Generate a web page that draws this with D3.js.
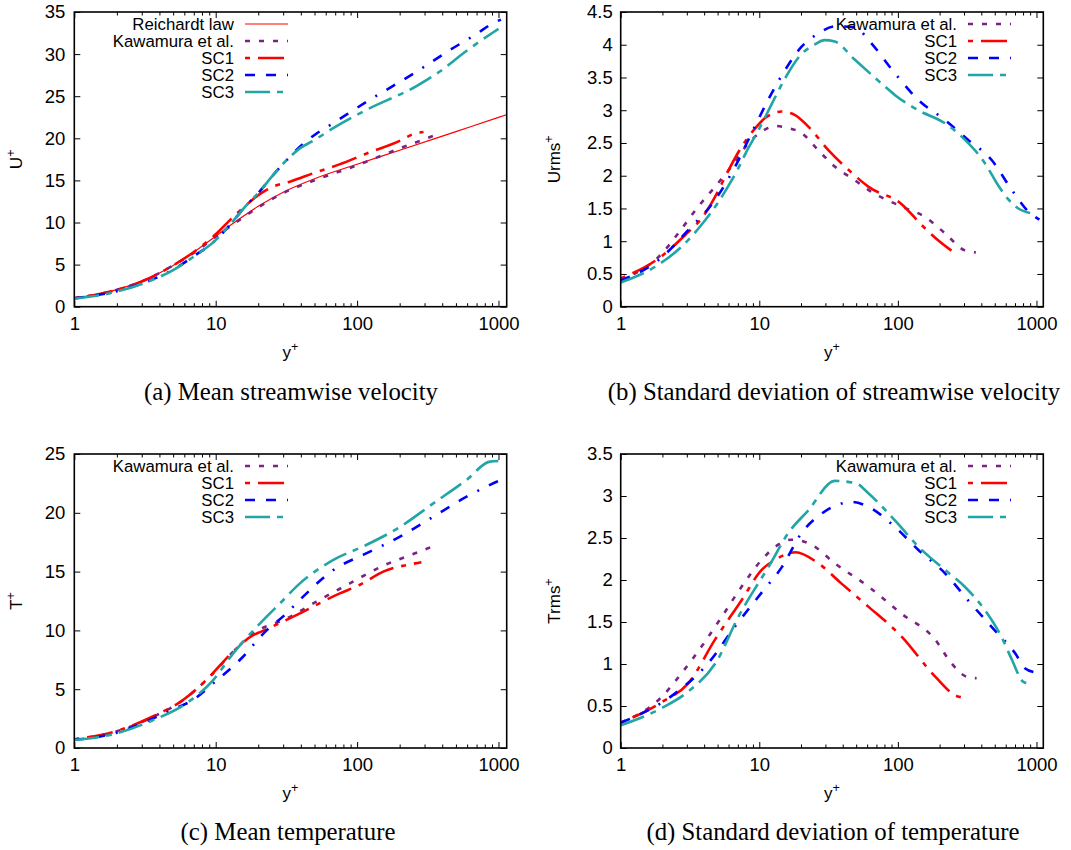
<!DOCTYPE html>
<html><head><meta charset="utf-8">
<script src="https://cdn.jsdelivr.net/npm/d3@7"></script>
<style>body{margin:0;background:#fff}svg{display:block}</style>
</head><body>
<svg id="c" width="1071" height="850"></svg>
<script>
// ---------- data (y+ positions and values) ----------
// (a) mean streamwise velocity U+
const aReichX = [1,1.5,2,3,4,5,7,10,15,20,30,50,100,200,500,1000,1143];
const aReichY = [1.01,1.52,2.03,3.04,4.0,4.9,6.49,8.38,10.53,11.93,13.6,15.2,16.92,18.58,20.8,22.48,22.8];
const aKawX = [1,2,3,5,7,10,15,20,30,50,100,200,300,360];
const aKawY = [1.0,2.0,3.0,4.9,6.4,8.3,10.4,11.8,13.5,15.0,16.8,18.8,19.9,20.4];
const aSC1X = [1,2,3,5,7,10,13,16,20.6,25,33.5,50,75,117,200,250,295];
const aSC1Y = [1.0,2.0,3.0,4.9,6.5,8.6,10.5,11.9,13.4,14.2,14.85,15.9,16.9,18.2,19.7,20.5,20.75];
const aSC2X = [1,2,3,5,7,10,13,16,20,26,33.5,39.4,50,67.8,117,263,455,700,920,1040];
const aSC2Y = [1.0,1.85,2.75,4.4,6.0,7.9,10.0,11.8,13.5,15.8,17.8,19.0,20.4,21.8,24.35,27.9,30.5,32.4,33.7,34.1];
const aSC3X = [1,2,3,5,7,10,13,16,20,26,33.5,39.4,50,67.8,117,263,382,595,920,1000];
const aSC3Y = [0.95,1.8,2.7,4.35,5.95,7.9,10.0,11.8,13.5,15.8,17.8,18.8,19.8,21.2,23.4,26.2,27.9,30.4,32.6,33.0];

// (b) standard deviation of streamwise velocity Urms+
const bKawX = [1,1.98,2.6,3.63,4.79,6.3,8.3,11.6,13,16,20.2,26.6,35,49,61.5,106,157,219,304,365];
const bKawY = [0.41,0.81,1.12,1.53,1.83,2.14,2.49,2.73,2.76,2.73,2.65,2.39,2.14,1.93,1.78,1.53,1.37,1.12,0.86,0.83];
const bSC1X = [1,2,3,3.84,5,5.66,7.45,9.3,11,14.5,18,22.6,31.5,44,61.5,106,148,201,270];
const bSC1Y = [0.43,0.78,1.12,1.35,1.75,1.98,2.44,2.72,2.88,2.98,2.93,2.75,2.39,2.09,1.83,1.57,1.25,0.99,0.79];
const bSC2X = [1,1.87,3.07,4.79,6.7,8.8,11.6,15.3,20.2,26.6,35,49,61.5,95.5,140,219,320,475,665,875,1050];
const bSC2Y = [0.4,0.71,1.17,1.63,2.14,2.65,3.16,3.61,3.97,4.17,4.28,4.27,4.07,3.56,3.16,2.85,2.55,2.24,1.78,1.45,1.33];
const bSC3X = [1,1.77,2.76,4,5,6,7,8,10,12,15,20,25,29.6,35,49,76,95.5,140,219,304,425,530,620,740,900];
const bSC3Y = [0.37,0.61,0.92,1.3,1.58,1.85,2.1,2.35,2.72,3.05,3.45,3.85,4.0,4.07,4.05,3.77,3.41,3.23,3.0,2.8,2.55,2.19,1.85,1.65,1.5,1.43];

// (c) mean temperature T+
const cKawX = [1,2,2.35,3.62,5.9,8.6,13.3,18.4,31.7,51.5,88.8,153,250,370];
const cKawY = [0.72,1.42,1.7,2.66,4.08,5.78,8.19,9.75,11.0,12.44,14.0,15.5,16.5,17.3];
const cSC1X = [1,2,3.62,5.9,8.6,13.3,18.4,21,35.3,75.5,104,153,258,285];
const cSC1Y = [0.75,1.45,2.7,4.1,5.8,8.2,9.6,9.9,11.17,13.15,13.86,15.0,15.7,15.8];
const cSC2X = [1,2,3.62,5,6.9,9.6,14.8,22.9,31.7,39.4,68,116,201,346,595,971,1040];
const cSC2Y = [0.7,1.3,2.52,3.3,4.08,5.5,7.48,10.0,11.45,12.6,15.14,16.55,17.97,19.67,21.37,22.64,22.8];
const cSC3X = [1,2,3.62,6.2,9.6,13.3,20.6,28.5,39.4,68,116,201,346,595,870,1000];
const cSC3Y = [0.68,1.25,2.38,3.8,5.78,8.05,10.6,12.3,14.0,16.0,17.26,18.8,20.8,22.8,24.35,24.4];

// (d) standard deviation of temperature Trms+
const dKawX = [1,1.98,2.75,3.84,5.35,7.45,10.4,13.7,17.1,23.8,35,61.5,106,186,243,312,370];
const dKawY = [0.3,0.61,0.89,1.21,1.56,1.92,2.24,2.42,2.48,2.42,2.2,1.92,1.6,1.29,1.01,0.85,0.83];
const dSC1X = [1,2,3.07,4.79,7.45,10.4,13,18.2,26.6,39,61.5,106,186,265,300];
const dSC1Y = [0.3,0.55,0.77,1.29,1.76,2.12,2.24,2.33,2.2,1.96,1.68,1.33,0.85,0.62,0.6];
const dSC2X = [1,2.47,4.28,6.7,10.4,14.5,20.2,28.2,39,46,61.5,95.5,140,219,320,500,700,825,980];
const dSC2Y = [0.3,0.65,1.01,1.45,1.85,2.15,2.56,2.79,2.91,2.93,2.87,2.63,2.36,2.08,1.76,1.4,1.13,0.95,0.9];
const dSC3X = [1,2,3,5,7,10,11.6,16.2,22.6,35,50,61.5,100,140,219,304,425,560,665,800,870];
const dSC3Y = [0.27,0.48,0.66,1.05,1.55,1.98,2.15,2.56,2.83,3.18,3.15,3.03,2.67,2.4,2.12,1.92,1.64,1.32,1.05,0.79,0.77];

// tick labels
const xTickVals = [1,10,100,1000];
const aYTicks = [0,5,10,15,20,25,30,35];
const bYTicks = [0,0.5,1,1.5,2,2.5,3,3.5,4,4.5];
const cYTicks = [0,5,10,15,20,25];
const dYTicks = [0,0.5,1,1.5,2,2.5,3,3.5];

const captions = ["(a) Mean streamwise velocity","(b) Standard deviation of streamwise velocity",
                  "(c) Mean temperature","(d) Standard deviation of temperature"];

// ---------- styles ----------
const STY = {
  reich: {name:"Reichardt law", color:"#ff0000", w:1.2, dash:null},
  kaw:   {name:"Kawamura et al.", color:"#7b2384", w:2.6, dash:"5,9"},
  sc1:   {name:"SC1", color:"#ff0000", w:2.6, dash:"5,8,26,8"},
  sc2:   {name:"SC2", color:"#0000ff", w:2.6, dash:"10,11,10,11,2,11"},
  sc3:   {name:"SC3", color:"#22a5a5", w:2.6, dash:"25,7,6,7"}
};

const svg = d3.select("#c");
const SANS = "'Liberation Sans', Arial, sans-serif";
const SERIF = "'Liberation Serif', 'Times New Roman', serif";

function panel(o){
  const g = svg.append("g");
  const x = d3.scaleLog().domain([1, o.xmax]).range([o.left, o.right]);
  const y = d3.scaleLinear().domain([0, o.ymax]).range([o.bottom, o.top]);
  const minor = [];
  for (let dec=1; dec<=1000; dec*=10) for (let k=2;k<=9;k++){ const v=dec*k; if (v<o.xmax) minor.push(v); }

  // series
  const line = d3.line().x(d=>x(d[0])).y(d=>y(d[1])).curve(d3.curveMonotoneX);
  o.series.forEach(s=>{
    const st = STY[s.key];
    const pts = s.x.map((v,i)=>[v, s.y[i]]);
    g.append("path").attr("d", line(pts)).attr("fill","none")
      .attr("stroke", st.color).attr("stroke-width", st.w)
      .attr("stroke-dasharray", st.dash).attr("stroke-linecap","butt");
  });

  // axes (inward ticks, mirrored)
  const axB = d3.axisBottom(x).tickValues(xTickVals).tickFormat(d3.format("d")).tickSizeInner(-6).tickSizeOuter(0).tickPadding(10);
  const axBm = d3.axisBottom(x).tickValues(minor).tickFormat("").tickSizeInner(-3.5).tickSizeOuter(0);
  const axT = d3.axisTop(x).tickValues(xTickVals).tickFormat("").tickSizeInner(-6).tickSizeOuter(0);
  const axTm = d3.axisTop(x).tickValues(minor).tickFormat("").tickSizeInner(-3.5).tickSizeOuter(0);
  const axL = d3.axisLeft(y).tickValues(o.yticks).tickFormat(d=>String(d)).tickSizeInner(-6).tickSizeOuter(0).tickPadding(o.ypad);
  const axR = d3.axisRight(y).tickValues(o.yticks).tickFormat("").tickSizeInner(-6).tickSizeOuter(0);
  [[axB,`translate(0,${o.bottom})`],[axBm,`translate(0,${o.bottom})`],[axT,`translate(0,${o.top})`],
   [axTm,`translate(0,${o.top})`],[axL,`translate(${o.left},0)`],[axR,`translate(${o.right},0)`]].forEach(([a,t])=>{
    const ag = g.append("g").attr("transform",t).call(a);
    ag.select(".domain").remove();
    ag.selectAll("line").attr("stroke","#000").attr("stroke-width",1);
    ag.selectAll("text").attr("font-family",SANS).attr("font-size",18.5).attr("fill","#000");
  });

  g.append("rect").attr("x",o.left).attr("y",o.top).attr("width",o.right-o.left).attr("height",o.bottom-o.top)
    .attr("fill","none").attr("stroke","#000").attr("stroke-width",1.6);

  // y label
  const yl = g.append("text").attr("transform",`translate(${o.ylx},${(o.top+o.bottom)/2}) rotate(-90)`)
    .attr("text-anchor","middle").attr("font-family",SANS).attr("font-size",17);
  yl.append("tspan").text(o.ylab);
  yl.append("tspan").attr("dy",-7).attr("font-size",12.5).text("+");
  // x label
  const xl = g.append("text").attr("x",(o.left+o.right)/2).attr("y",o.bottom+51)
    .attr("text-anchor","middle").attr("font-family",SANS).attr("font-size",17);
  xl.append("tspan").text("y");
  xl.append("tspan").attr("dy",-7).attr("font-size",12.5).text("+");

  // legend
  o.series.forEach((s,i)=>{
    const st = STY[s.key];
    const yy = o.legTop + i*17;
    g.append("text").attr("x",o.legX).attr("y",yy).attr("dy","0.35em").attr("text-anchor","end")
      .attr("font-family",SANS).attr("font-size",16.8).text(st.name);
    g.append("line").attr("x1",o.legX+11).attr("x2",o.legX+54).attr("y1",yy).attr("y2",yy)
      .attr("stroke",st.color).attr("stroke-width",st.w).attr("stroke-dasharray",st.dash);
  });

  // caption
  svg.append("text").attr("x",o.capX).attr("y",o.capY).attr("text-anchor","middle")
    .attr("font-family",SERIF).attr("font-size",24.8).text(o.caption);
}

panel({left:74.3,right:506.7,top:12,bottom:306.7,xmax:1143,ymax:35,yticks:aYTicks,ylab:"U",ylx:22,ypad:9,
  legX:234,legTop:24,capX:291,capY:400,caption:captions[0],
  series:[{key:"reich",x:aReichX,y:aReichY},{key:"kaw",x:aKawX,y:aKawY},{key:"sc1",x:aSC1X,y:aSC1Y},
          {key:"sc2",x:aSC2X,y:aSC2Y},{key:"sc3",x:aSC3X,y:aSC3Y}]});
panel({left:620.7,right:1043.3,top:12,bottom:306.7,xmax:1120,ymax:4.5,yticks:bYTicks,ylab:"Urms",ylx:560,ypad:8,
  legX:957,legTop:24,capX:834,capY:400,caption:captions[1],
  series:[{key:"kaw",x:bKawX,y:bKawY},{key:"sc1",x:bSC1X,y:bSC1Y},{key:"sc2",x:bSC2X,y:bSC2Y},{key:"sc3",x:bSC3X,y:bSC3Y}]});
panel({left:74.3,right:506.7,top:454,bottom:748,xmax:1143,ymax:25,yticks:cYTicks,ylab:"T",ylx:22,ypad:9,
  legX:234,legTop:466,capX:288,capY:840,caption:captions[2],
  series:[{key:"kaw",x:cKawX,y:cKawY},{key:"sc1",x:cSC1X,y:cSC1Y},{key:"sc2",x:cSC2X,y:cSC2Y},{key:"sc3",x:cSC3X,y:cSC3Y}]});
panel({left:620.7,right:1043.3,top:454,bottom:748,xmax:1120,ymax:3.5,yticks:dYTicks,ylab:"Trms",ylx:560,ypad:8,
  legX:957,legTop:466,capX:833,capY:840,caption:captions[3],
  series:[{key:"kaw",x:dKawX,y:dKawY},{key:"sc1",x:dSC1X,y:dSC1Y},{key:"sc2",x:dSC2X,y:dSC2Y},{key:"sc3",x:dSC3X,y:dSC3Y}]});
</script>
</body></html>
